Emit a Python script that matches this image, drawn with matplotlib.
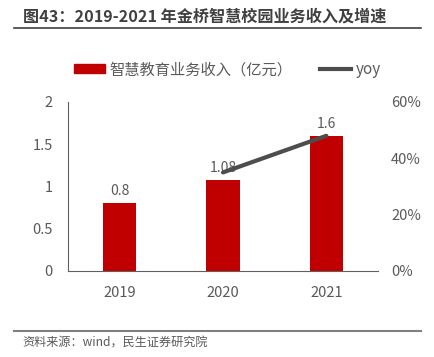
import matplotlib
matplotlib.use("Agg")
import matplotlib.pyplot as plt
from matplotlib.lines import Line2D
from matplotlib.patches import Patch

plt.rcParams['font.family'] = ['Noto Sans CJK SC', 'DejaVu Sans']

years = ["2019", "2020", "2021"]
revenue = [0.8, 1.08, 1.6]
revenue_labels = ["0.8", "1.08", "1.6"]
yoy_years = ["2020", "2021"]
yoy = [0.35, 0.48]
left_ticks = [0, 0.5, 1, 1.5, 2]
left_tick_labels = ["0", "0.5", "1", "1.5", "2"]
right_ticks = [0, 0.2, 0.4, 0.6]
right_tick_labels = ["0%", "20%", "40%", "60%"]

title = "图43：2019-2021 年金桥智慧校园业务收入及增速"
source = "资料来源：wind，民生证券研究院"
bar_name = "智慧教育业务收入（亿元）"
line_name = "yoy"

red = "#C00000"
grey_line = "#4D4D4D"
txt = "#595959"

fig = plt.figure(figsize=(4.35, 3.57), dpi=100)
ax = fig.add_axes([0.1563, 0.2409, 0.7127, 0.4734])
x = list(range(len(years)))
ax.bar(x, revenue, width=0.32, color=red, zorder=2)
for xi, v, lab in zip(x, revenue, revenue_labels):
    ax.text(xi, v + 0.06, lab, ha="center", va="bottom", fontsize=10, color=txt)
ax.set_ylim(0, 2)
ax.set_xlim(-0.5, 2.5)
ax.set_yticks(left_ticks)
ax.set_yticklabels(left_tick_labels)
ax.set_xticks(x)
ax.set_xticklabels(years)
ax.tick_params(axis="both", length=0, labelsize=10.5, labelcolor=txt)
ax.tick_params(axis="y", pad=11)
ax.tick_params(axis="x", pad=11)
for s in ["top", "right"]:
    ax.spines[s].set_visible(False)
ax.spines["left"].set_color("#606060")
ax.spines["bottom"].set_color("#606060")
ax.spines["left"].set_linewidth(0.8)
ax.spines["bottom"].set_linewidth(0.8)

ax2 = ax.twinx()
ax2.plot([years.index(y) for y in yoy_years], yoy, color=grey_line, lw=3, solid_capstyle="round", zorder=3)
ax2.set_ylim(0, 0.6)
ax2.set_yticks(right_ticks)
ax2.set_yticklabels(right_tick_labels)
ax2.tick_params(axis="y", length=0, labelsize=10.5, labelcolor=txt, pad=9.5)
for s in ["top", "right", "left", "bottom"]:
    ax2.spines[s].set_visible(False)

handles = [Patch(facecolor=red, edgecolor=red), Line2D([0], [0], color=grey_line, lw=3)]
fig.legend(handles, [bar_name, line_name], loc="center", bbox_to_anchor=(0.523, 0.805),
           ncol=2, frameon=False, fontsize=11, labelcolor=txt, handlelength=2.0,
           handleheight=0.5, columnspacing=1.8, handletextpad=0.33)

fig.text(0.053, 0.955, title, fontsize=11.6, fontweight="bold", color="#404040", ha="left", va="center")
fig.add_artist(Line2D([0.032, 0.968], [0.921, 0.921], color="#404040", lw=1.2))
fig.add_artist(Line2D([0.032, 0.968], [0.073, 0.073], color="#808080", lw=1.5))
fig.text(0.052, 0.040, source, fontsize=8.7, color=txt, ha="left", va="center")

fig.savefig("out.png", dpi=100)
